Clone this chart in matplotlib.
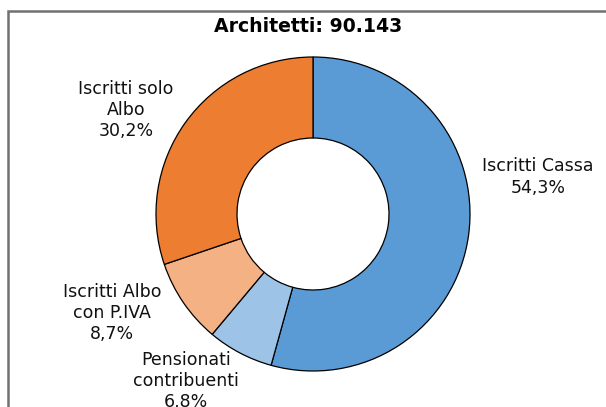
import matplotlib
matplotlib.use("Agg")
import matplotlib.pyplot as plt

# dati
categorie = ["Iscritti Cassa", "Pensionati\ncontribuenti", "Iscritti Albo\ncon P.IVA", "Iscritti solo\nAlbo"]
quote = [54.3, 6.8, 8.7, 30.2]
colori = ["#5B9BD5", "#9DC3E6", "#F4B183", "#ED7D31"]
titolo = "Architetti: 90.143"

W, H = 606, 407
fig = plt.figure(figsize=(W / 100, H / 100), dpi=100)
ax = fig.add_axes([0, 0, 1, 1])

cx, cy, R = 313, H - 214, 157
ax.pie(quote, colors=colori, startangle=90, counterclock=False,
       center=(cx, cy), radius=R, frame=True,
       wedgeprops=dict(width=R - 76, edgecolor="black", linewidth=0.9))
ax.set_xlim(0, W)
ax.set_ylim(0, H)
ax.set_aspect("equal")
ax.axis("off")

# posizioni delle etichette (pixel, origine in alto a sinistra)
pos_etichette = [(538, 177), (186, 381), (112, 313), (126, 110)]
for nome, q, (x, y) in zip(categorie, quote, pos_etichette):
    testo = nome + "\n" + f"{q:.1f}%".replace(".", ",")
    ax.text(x, H - y, testo, ha="center", va="center", fontsize=12.5,
            linespacing=1.22, color="#111111")

ax.text(308, H - 26, titolo, ha="center", va="center", fontsize=13.6,
        fontweight="bold")

# cornice
ax.plot([8, 8, W], [0, H - 11, H - 11], color="#707070", lw=1.8,
        solid_joinstyle="miter", clip_on=False)

fig.savefig("out.png", dpi=100)
